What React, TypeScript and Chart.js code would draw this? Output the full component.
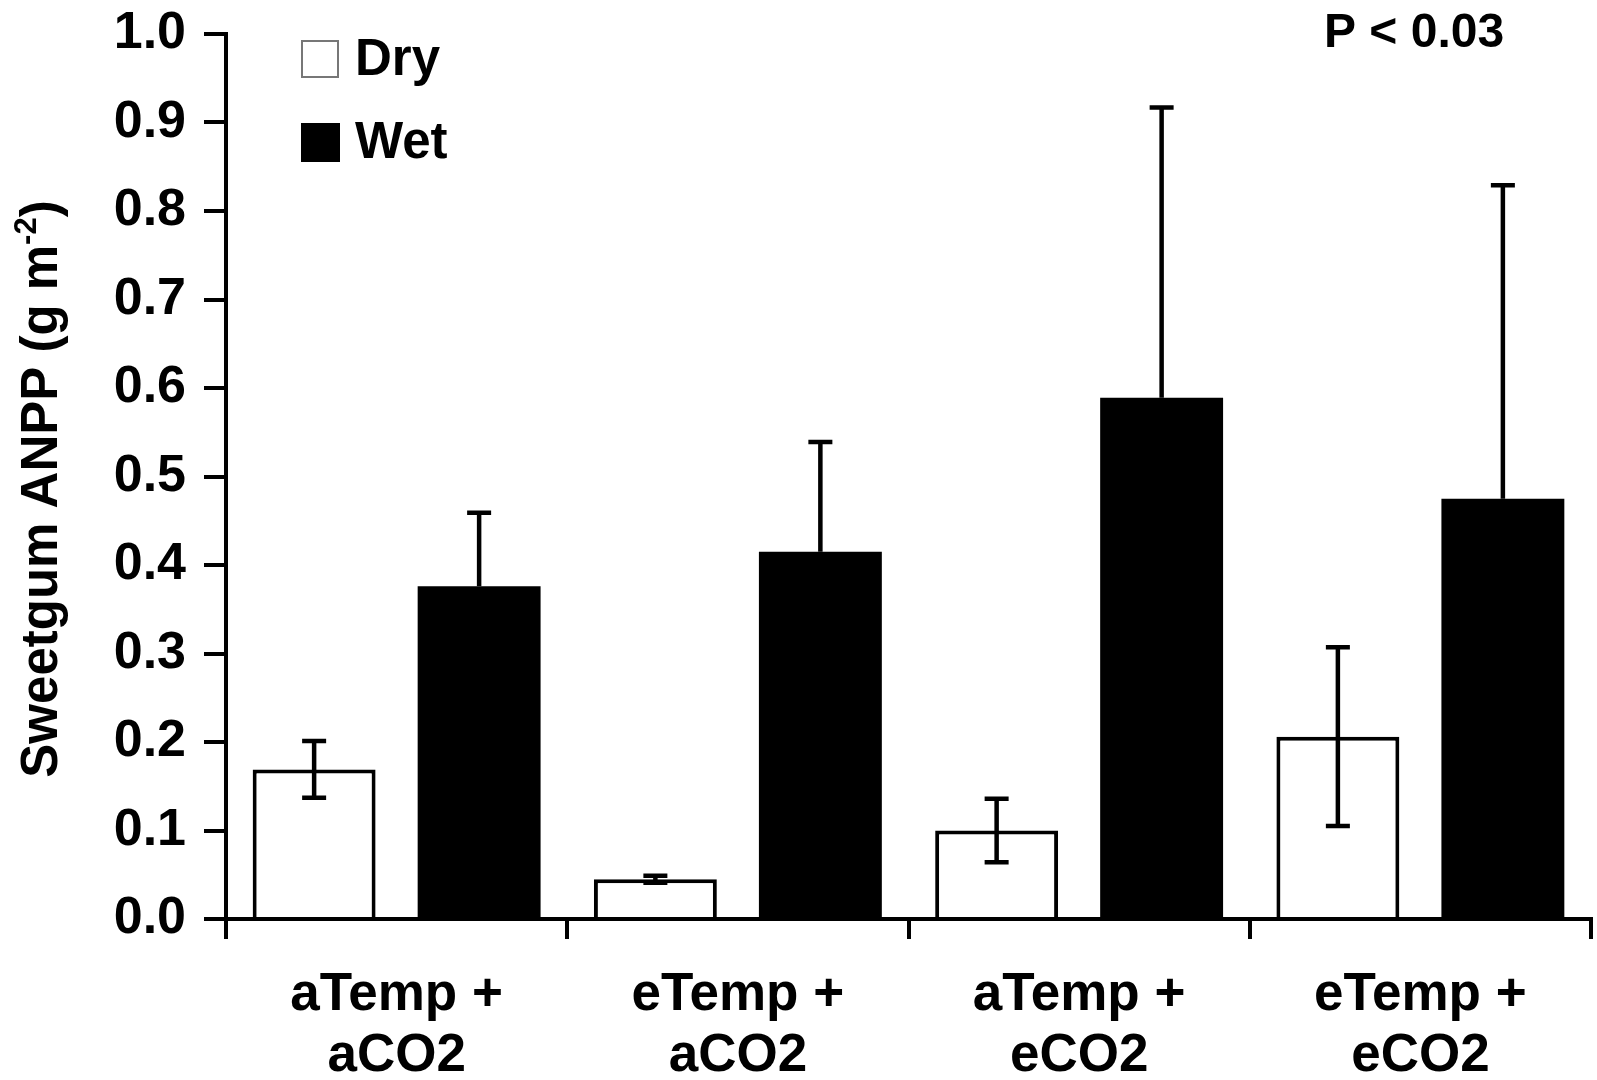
import React, { useEffect, useRef } from "react";
import { Chart, registerables } from "chart.js";

Chart.register(...registerables);

const categories: string[][] = [
  ["aTemp +", "aCO2"],
  ["eTemp +", "aCO2"],
  ["aTemp +", "eCO2"],
  ["eTemp +", "eCO2"],
];
const dryValues = [0.169, 0.045, 0.1, 0.206];
const dryErrors = [0.032, 0.004, 0.036, 0.101];
const wetValues = [0.376, 0.415, 0.589, 0.475];
const wetErrors = [0.083, 0.124, 0.328, 0.354];
const yTicks = [0, 0.1, 0.2, 0.3, 0.4, 0.5, 0.6, 0.7, 0.8, 0.9, 1.0];
const yTitle = "Sweetgum ANPP (g m";
const yTitleSup = "-2";
const pText = "P < 0.03";
const legendLabels = ["Dry", "Wet"];

const FONT = "'Liberation Sans', Arial, Helvetica, sans-serif";

const extrasPlugin = {
  id: "extras",
  afterDatasetsDraw(chart: any) {
    const ctx = chart.ctx;
    const y = chart.scales.y;
    const errs = [dryErrors, wetErrors];
    const vals = [dryValues, wetValues];
    ctx.save();
    ctx.strokeStyle = "#000";
    ctx.lineWidth = 4.5;
    ctx.lineCap = "butt";
    for (let d = 0; d < 2; d++) {
      const meta = chart.getDatasetMeta(d);
      meta.data.forEach((el: any, i: number) => {
        const v = vals[d][i];
        const e = errs[d][i];
        const top = y.getPixelForValue(v + e);
        const bot = d === 0 ? y.getPixelForValue(v - e) : y.getPixelForValue(v);
        const x = el.x;
        ctx.beginPath();
        ctx.moveTo(x, top);
        ctx.lineTo(x, bot);
        ctx.moveTo(x - 12, top);
        ctx.lineTo(x + 12, top);
        if (d === 0) {
          ctx.moveTo(x - 12, bot);
          ctx.lineTo(x + 12, bot);
        }
        ctx.stroke();
      });
    }
    ctx.restore();
  },
  afterDraw(chart: any) {
    const ctx = chart.ctx;
    const area = chart.chartArea;
    ctx.save();
    ctx.fillStyle = "#000";
    // legend
    ctx.font = `bold 51px ${FONT}`;
    ctx.textBaseline = "middle";
    ctx.textAlign = "left";
    const lx = area.left + 75;
    const ly = [59, 142];
    legendLabels.forEach((lab, i) => {
      const top = ly[i] - 19;
      if (i === 0) {
        ctx.fillStyle = "#fff";
        ctx.fillRect(lx, top, 38, 38);
        ctx.strokeStyle = "#777";
        ctx.lineWidth = 2;
        ctx.strokeRect(lx + 1, top + 1, 36, 36);
      } else {
        ctx.fillStyle = "#000";
        ctx.fillRect(lx, top, 39, 39);
      }
      ctx.fillStyle = "#000";
      ctx.fillText(lab, lx + 54, ly[i] + 2);
    });
    // P value
    ctx.font = `bold 48px ${FONT}`;
    ctx.textAlign = "left";
    ctx.fillText(pText, 1324, 34);
    // y-axis title
    ctx.translate(43, 489);
    ctx.rotate(-Math.PI / 2);
    ctx.font = `bold 51px ${FONT}`;
    const w1 = ctx.measureText(yTitle).width;
    ctx.font = `bold 31px ${FONT}`;
    const w2 = ctx.measureText(yTitleSup).width;
    ctx.font = `bold 51px ${FONT}`;
    const w3 = ctx.measureText(")").width;
    const total = w1 + w2 + w3;
    let x0 = -total / 2;
    ctx.textAlign = "left";
    ctx.fillText(yTitle, x0, 0);
    x0 += w1;
    ctx.font = `bold 31px ${FONT}`;
    ctx.fillText(yTitleSup, x0, -16);
    x0 += w2;
    ctx.font = `bold 51px ${FONT}`;
    ctx.fillText(")", x0, 0);
    ctx.restore();
  },
};

export default function App() {
  const ref = useRef<HTMLCanvasElement>(null);
  useEffect(() => {
    if (!ref.current) return;
    const chart = new Chart(ref.current, {
      type: "bar",
      data: {
        labels: categories,
        datasets: [
          {
            label: legendLabels[0],
            data: dryValues,
            backgroundColor: "#fff",
            borderColor: "#000",
            borderWidth: 4,
            categoryPercentage: 0.967,
            barPercentage: 0.745,
          },
          {
            label: legendLabels[1],
            data: wetValues,
            backgroundColor: "#000",
            borderColor: "#000",
            borderWidth: 0,
            categoryPercentage: 0.967,
            barPercentage: 0.745,
          },
        ],
      },
      options: {
        responsive: false,
        animation: false,
        devicePixelRatio: 1,
        layout: { padding: { top: 34, right: 6, left: 0, bottom: 0 } },
        plugins: {
          legend: { display: false },
          tooltip: { enabled: false },
          title: { display: false },
        },
        scales: {
          x: {
            offset: true,
            grid: {
              offset: true,
              drawOnChartArea: false,
              drawTicks: true,
              tickLength: 20,
              color: "#000",
              lineWidth: 4,
            },
            border: { display: true, color: "#000", width: 4 },
            ticks: {
              color: "#000",
              font: { family: FONT, size: 53, weight: "bold", lineHeight: 1.15 },
              padding: 26,
              maxRotation: 0,
              autoSkip: false,
            },
            afterFit: (s: any) => {
              s.height = 161;
              s.paddingLeft = 0;
              s.paddingRight = 0;
            },
          },
          y: {
            min: 0,
            max: 1.0,
            afterBuildTicks: (s: any) => {
              s.ticks = yTicks.map((v) => ({ value: v }));
            },
            grid: {
              drawOnChartArea: false,
              drawTicks: true,
              tickLength: 22,
              color: "#000",
              lineWidth: 4,
            },
            border: { display: true, color: "#000", width: 4 },
            ticks: {
              color: "#000",
              font: { family: FONT, size: 52, weight: "bold" },
              padding: 18,
              callback: (v: any) => Number(v).toFixed(1),
            },
            afterFit: (s: any) => {
              s.width = 226;
              s.paddingTop = 0;
              s.paddingBottom = 0;
            },
          },
        },
      },
      plugins: [extrasPlugin],
    });
    return () => chart.destroy();
  }, []);
  return (
    <div style={{ position: "absolute", left: 0, top: 0, width: 1597, height: 1080, background: "#fff" }}>
      <canvas ref={ref} width={1597} height={1080} style={{ width: 1597, height: 1080 }} />
    </div>
  );
}
